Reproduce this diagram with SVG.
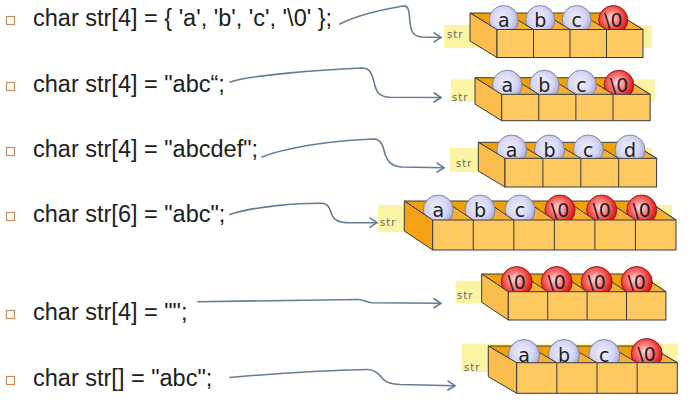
<svg xmlns="http://www.w3.org/2000/svg" width="694" height="409" viewBox="0 0 694 409">
<style>
.code{font-family:"Liberation Sans",Arial,sans-serif;font-size:23.5px;fill:#202020}
.bullet{fill:#fff;stroke:#C98A5C;stroke-width:1.2}
.yel{fill:#FBF4A4}
.str{font-family:"DejaVu Sans",sans-serif;font-size:10px;fill:#666;letter-spacing:1px}
.inner{fill:#EFA106;stroke:#3a3a3a;stroke-width:1;stroke-linejoin:round}
.wall{fill:#F5B035;stroke:none}
.edge{stroke:#3a3a3a;stroke-width:1;fill:none}
.left{fill:#FBBD4E;stroke:#3a3a3a;stroke-width:1;stroke-linejoin:round}
.leftdark{fill:#F6A214;stroke:#3a3a3a;stroke-width:1;stroke-linejoin:round}
.front{fill:#FFC962;stroke:#3a3a3a;stroke-width:1}
.ball{fill:url(#gBlue);stroke:#7D7DA0;stroke-width:0.9}
.nul{fill:url(#gRed);stroke:#8C1212;stroke-width:0.9}
.lbl{font-family:"DejaVu Sans",sans-serif;font-size:19px;fill:#222;text-anchor:middle}
.conn{fill:none;stroke:#667B95;stroke-width:1.6;stroke-linecap:round;stroke-linejoin:round}
</style>
<defs>
<radialGradient id="gBlue" cx="0.45" cy="0.42" r="0.6">
<stop offset="0" stop-color="#EEEEFD"/>
<stop offset="0.6" stop-color="#D6D6F3"/>
<stop offset="1" stop-color="#A6A6D8"/>
</radialGradient>
<radialGradient id="gRed" cx="0.45" cy="0.42" r="0.6">
<stop offset="0" stop-color="#FFE2E2"/>
<stop offset="0.35" stop-color="#FF8C8C"/>
<stop offset="0.75" stop-color="#EC3232"/>
<stop offset="1" stop-color="#C21010"/>
</radialGradient>
<marker id="arr" viewBox="-9 -6 11 12" refX="0" refY="0" markerWidth="11" markerHeight="12" markerUnits="userSpaceOnUse" orient="auto">
<path d="M-7,-4.5 L0,0 L-7,4.5" fill="none" stroke="#667B95" stroke-width="1.6" stroke-linecap="round" stroke-linejoin="round"/>
</marker>
</defs>
<rect width="694" height="409" fill="#fff"/>

<g id="stmt1"><rect class="bullet" x="6.5" y="16.5" width="8" height="8"/><text class="code" x="33" y="26">char str[4] = { 'a', 'b', 'c', '\0' };</text></g>
<g id="stmt2"><rect class="bullet" x="6.5" y="82.5" width="8" height="8"/><text class="code" x="33" y="92">char str[4] = "abc“;</text></g>
<g id="stmt3"><rect class="bullet" x="6.5" y="147.5" width="8" height="8"/><text class="code" x="33" y="157">char str[4] = "abcdef";</text></g>
<g id="stmt4"><rect class="bullet" x="6.5" y="212.5" width="8" height="8"/><text class="code" x="33" y="222">char str[6] = "abc";</text></g>
<g id="stmt5"><rect class="bullet" x="6.5" y="310.5" width="8" height="8"/><text class="code" x="33" y="320">char str[4] = "";</text></g>
<g id="stmt6"><rect class="bullet" x="6.5" y="376.5" width="8" height="8"/><text class="code" x="33" y="386">char str[] = "abc";</text></g>

<g id="connectors">
<path class="conn" marker-end="url(#arr)" d="M340,24 C355,16 380,10 403,6 C409,5 409,12 410,22 C411,32 413,36 422,37 L441,37.5"/>
<path class="conn" marker-end="url(#arr)" d="M230,82 C250,75 320,70 362,68 C370,68 372,74 374,82 C376,92 379,97 390,97.3 L441,97.5"/>
<path class="conn" marker-end="url(#arr)" d="M262,157 C290,146 340,140 374,139 C381,139 383,146 385,154 C388,162 391,166 402,167 L444,167.7"/>
<path class="conn" marker-end="url(#arr)" d="M230,214.5 C255,206 300,203 322,203.3 C329,203.5 330,210 332,215 C334,220 338,222.7 350,222.7 L377,222.7"/>
<path class="conn" marker-end="url(#arr)" d="M198,301.7 L358,299.5 C364,299.5 366,302.5 372,302.8 L441,303.3"/>
<path class="conn" marker-end="url(#arr)" d="M230,377.5 C280,373 340,370 368,369.5 C376,369.5 380,376 384,380 C387,383 391,384 400,384.5 L455,385.7"/>
</g>

<g id="array1">
<rect class="yel" x="444" y="25" width="208" height="23"/>
<text class="str" x="447" y="38">str</text>
<polygon class="inner" points="470,13 616,13 643,29.5 497,29.5"/>
<polygon class="wall" points="616,13 643,29.5 616,29.5"/><line class="edge" x1="616" y1="13" x2="643" y2="29.5"/>
<circle class="nul" cx="613.25" cy="20" r="14.5"/><text class="lbl" x="613.25" y="27">\0</text>
<polygon class="wall" points="579.5,13 606.5,29.5 579.5,29.5"/><line class="edge" x1="579.5" y1="13" x2="606.5" y2="29.5"/>
<circle class="ball" cx="576.75" cy="20" r="14.5"/><text class="lbl" x="576.75" y="27">c</text>
<polygon class="wall" points="543,13 570,29.5 543,29.5"/><line class="edge" x1="543" y1="13" x2="570" y2="29.5"/>
<circle class="ball" cx="540.25" cy="20" r="14.5"/><text class="lbl" x="540.25" y="27">b</text>
<polygon class="wall" points="506.5,13 533.5,29.5 506.5,29.5"/><line class="edge" x1="506.5" y1="13" x2="533.5" y2="29.5"/>
<circle class="ball" cx="503.75" cy="20" r="14.5"/><text class="lbl" x="503.75" y="27">a</text>
<polygon class="left" points="470,13 497,29.5 497,57.5 470,41"/>
<rect class="front" x="497" y="29.5" width="146" height="28"/>
<path class="edge" d="M533.5,29.5V57.5M570,29.5V57.5M606.5,29.5V57.5"/>
</g>

<g id="array2">
<rect class="yel" x="450.7" y="79.3" width="204" height="22.4"/>
<text class="str" x="452" y="101">str</text>
<polygon class="inner" points="475,77.7 623.4,77.7 650.1,94.3 501.7,94.3"/>
<polygon class="wall" points="623.4,77.7 650.1,94.3 623.4,94.3"/><line class="edge" x1="623.4" y1="77.7" x2="650.1" y2="94.3"/>
<circle class="nul" cx="619" cy="85" r="14.8"/><text class="lbl" x="619" y="92">\0</text>
<polygon class="wall" points="586.3,77.7 613,94.3 586.3,94.3"/><line class="edge" x1="586.3" y1="77.7" x2="613" y2="94.3"/>
<circle class="ball" cx="581.5" cy="85" r="14.8"/><text class="lbl" x="581.5" y="92">c</text>
<polygon class="wall" points="549.2,77.7 575.9,94.3 549.2,94.3"/><line class="edge" x1="549.2" y1="77.7" x2="575.9" y2="94.3"/>
<circle class="ball" cx="544.4" cy="85" r="14.8"/><text class="lbl" x="544.4" y="92">b</text>
<polygon class="wall" points="512.1,77.7 538.8,94.3 512.1,94.3"/><line class="edge" x1="512.1" y1="77.7" x2="538.8" y2="94.3"/>
<circle class="ball" cx="507.3" cy="85" r="14.8"/><text class="lbl" x="507.3" y="92">a</text>
<polygon class="left" points="475,77.7 501.7,94.3 501.7,120.7 475,104.1"/>
<rect class="front" x="501.7" y="94.3" width="148.4" height="26.4"/>
<path class="edge" d="M538.8,94.3V120.7M575.9,94.3V120.7M613,94.3V120.7"/>
</g>

<g id="array3">
<rect class="yel" x="450" y="148" width="202" height="24"/>
<text class="str" x="456" y="167">str</text>
<polygon class="inner" points="478.3,142.3 629.9,142.3 656.6,158.3 505,158.3"/>
<polygon class="wall" points="629.9,142.3 656.6,158.3 629.9,158.3"/><line class="edge" x1="629.9" y1="142.3" x2="656.6" y2="158.3"/>
<circle class="ball" cx="630" cy="150" r="15"/><text class="lbl" x="630" y="157">d</text>
<polygon class="wall" points="592,142.3 618.7,158.3 592,158.3"/><line class="edge" x1="592" y1="142.3" x2="618.7" y2="158.3"/>
<circle class="ball" cx="588.3" cy="150" r="15"/><text class="lbl" x="588.3" y="157">c</text>
<polygon class="wall" points="554.1,142.3 580.8,158.3 554.1,158.3"/><line class="edge" x1="554.1" y1="142.3" x2="580.8" y2="158.3"/>
<circle class="ball" cx="549.5" cy="150" r="15"/><text class="lbl" x="549.5" y="157">b</text>
<polygon class="wall" points="516.2,142.3 542.9,158.3 516.2,158.3"/><line class="edge" x1="516.2" y1="142.3" x2="542.9" y2="158.3"/>
<circle class="ball" cx="511.7" cy="150" r="15"/><text class="lbl" x="511.7" y="157">a</text>
<polygon class="left" points="478.3,142.3 505,158.3 505,187 478.3,171"/>
<rect class="front" x="505" y="158.3" width="151.6" height="28.7"/>
<path class="edge" d="M542.9,158.3V187M580.8,158.3V187M618.7,158.3V187"/>
</g>

<g id="array4">
<rect class="yel" x="378" y="205" width="294" height="27"/>
<text class="str" x="380" y="226">str</text>
<polygon class="inner" points="404.3,201 647.6,201 676,220 432.7,220"/>
<polygon class="wall" points="647.6,201 676,220 647.6,220"/><line class="edge" x1="647.6" y1="201" x2="676" y2="220"/>
<circle class="nul" cx="641.7" cy="210" r="15"/><text class="lbl" x="641.7" y="217">\0</text>
<polygon class="wall" points="607.05,201 635.45,220 607.05,220"/><line class="edge" x1="607.05" y1="201" x2="635.45" y2="220"/>
<circle class="nul" cx="601.7" cy="210" r="15"/><text class="lbl" x="601.7" y="217">\0</text>
<polygon class="wall" points="566.5,201 594.9,220 566.5,220"/><line class="edge" x1="566.5" y1="201" x2="594.9" y2="220"/>
<circle class="nul" cx="560" cy="210" r="15"/><text class="lbl" x="560" y="217">\0</text>
<polygon class="wall" points="525.95,201 554.35,220 525.95,220"/><line class="edge" x1="525.95" y1="201" x2="554.35" y2="220"/>
<circle class="ball" cx="520" cy="210" r="15"/><text class="lbl" x="520" y="217">c</text>
<polygon class="wall" points="485.4,201 513.8,220 485.4,220"/><line class="edge" x1="485.4" y1="201" x2="513.8" y2="220"/>
<circle class="ball" cx="480" cy="210" r="15"/><text class="lbl" x="480" y="217">b</text>
<polygon class="wall" points="444.85,201 473.25,220 444.85,220"/><line class="edge" x1="444.85" y1="201" x2="473.25" y2="220"/>
<circle class="ball" cx="438.3" cy="210" r="15"/><text class="lbl" x="438.3" y="217">a</text>
<polygon class="leftdark" points="404.3,201 432.7,220 432.7,250 404.3,231"/>
<rect class="front" x="432.7" y="220" width="243.3" height="30"/>
<path class="edge" d="M473.25,220V250M513.8,220V250M554.35,220V250M594.9,220V250M635.45,220V250"/>
</g>

<g id="array5">
<rect class="yel" x="456" y="280.7" width="206" height="22.6"/>
<text class="str" x="457" y="299">str</text>
<polygon class="inner" points="481.7,274 639.3,274 665.9,291.7 508.3,291.7"/>
<polygon class="wall" points="639.3,274 665.9,291.7 639.3,291.7"/><line class="edge" x1="639.3" y1="274" x2="665.9" y2="291.7"/>
<circle class="nul" cx="636.7" cy="282" r="15.5"/><text class="lbl" x="636.7" y="289">\0</text>
<polygon class="wall" points="599.9,274 626.5,291.7 599.9,291.7"/><line class="edge" x1="599.9" y1="274" x2="626.5" y2="291.7"/>
<circle class="nul" cx="596.7" cy="282" r="15.5"/><text class="lbl" x="596.7" y="289">\0</text>
<polygon class="wall" points="560.5,274 587.1,291.7 560.5,291.7"/><line class="edge" x1="560.5" y1="274" x2="587.1" y2="291.7"/>
<circle class="nul" cx="556.7" cy="282" r="15.5"/><text class="lbl" x="556.7" y="289">\0</text>
<polygon class="wall" points="521.1,274 547.7,291.7 521.1,291.7"/><line class="edge" x1="521.1" y1="274" x2="547.7" y2="291.7"/>
<circle class="nul" cx="516.7" cy="282" r="15.5"/><text class="lbl" x="516.7" y="289">\0</text>
<polygon class="left" points="481.7,274 508.3,291.7 508.3,320 481.7,302.3"/>
<rect class="front" x="508.3" y="291.7" width="157.6" height="28.3"/>
<path class="edge" d="M547.7,291.7V320M587.1,291.7V320M626.5,291.7V320"/>
</g>

<g id="array6">
<rect class="yel" x="461.7" y="344" width="216" height="28"/>
<text class="str" x="464" y="371">str</text>
<polygon class="inner" points="488.3,346 648.9,346 677.3,362.7 516.7,362.7"/>
<polygon class="wall" points="648.9,346 677.3,362.7 648.9,362.7"/><line class="edge" x1="648.9" y1="346" x2="677.3" y2="362.7"/>
<circle class="nul" cx="646.7" cy="354" r="15.5"/><text class="lbl" x="646.7" y="361">\0</text>
<polygon class="wall" points="608.75,346 637.15,362.7 608.75,362.7"/><line class="edge" x1="608.75" y1="346" x2="637.15" y2="362.7"/>
<circle class="ball" cx="604.3" cy="355" r="15.5"/><text class="lbl" x="604.3" y="362">c</text>
<polygon class="wall" points="568.6,346 597,362.7 568.6,362.7"/><line class="edge" x1="568.6" y1="346" x2="597" y2="362.7"/>
<circle class="ball" cx="564" cy="355" r="15.5"/><text class="lbl" x="564" y="362">b</text>
<polygon class="wall" points="528.45,346 556.85,362.7 528.45,362.7"/><line class="edge" x1="528.45" y1="346" x2="556.85" y2="362.7"/>
<circle class="ball" cx="524" cy="355" r="15.5"/><text class="lbl" x="524" y="362">a</text>
<polygon class="left" points="488.3,346 516.7,362.7 516.7,393.3 488.3,376.6"/>
<rect class="front" x="516.7" y="362.7" width="160.6" height="30.6"/>
<path class="edge" d="M556.85,362.7V393.3M597,362.7V393.3M637.15,362.7V393.3"/>
</g>
</svg>
